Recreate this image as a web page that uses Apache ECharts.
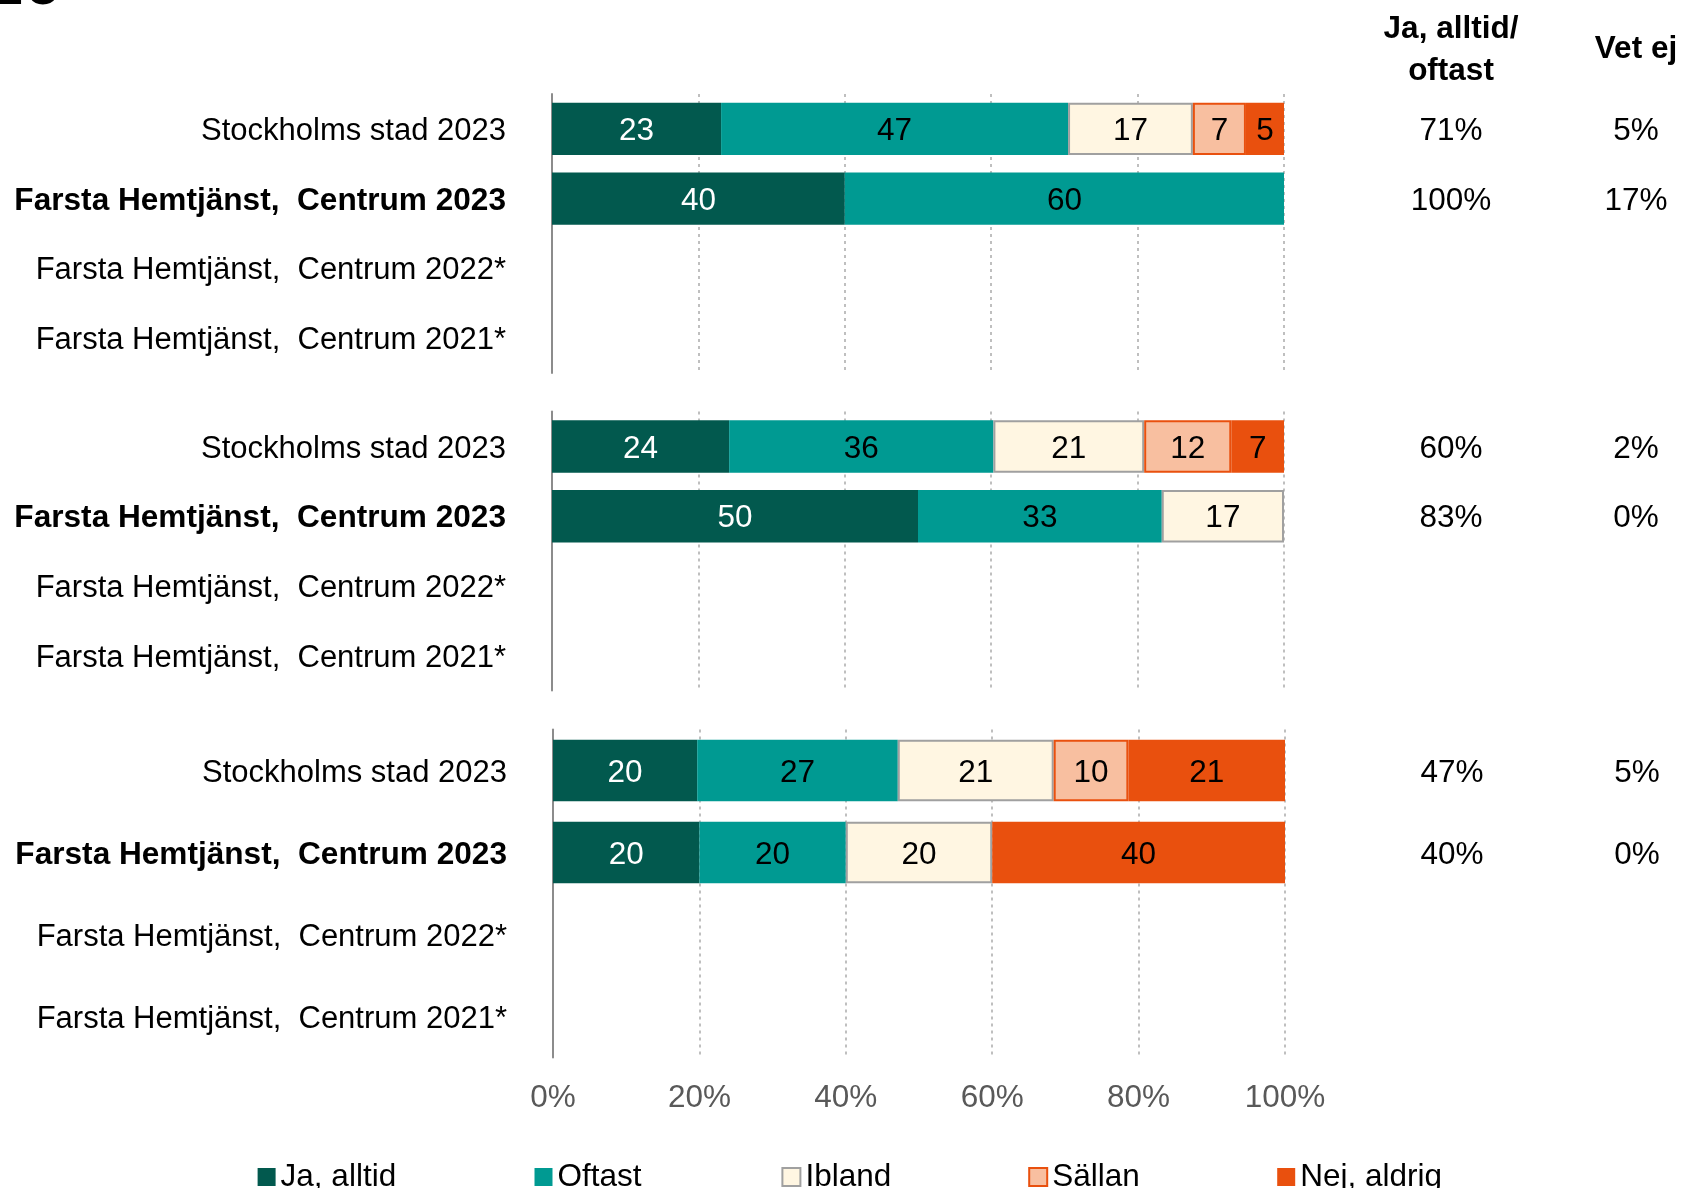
<!DOCTYPE html>
<html><head><meta charset="utf-8">
<script src="https://cdn.jsdelivr.net/npm/echarts@6/dist/echarts.min.js"></script>
<style>html,body{margin:0;padding:0;background:#fff}#c{width:1683px;height:1188px}</style>
</head><body><div id="c"></div>
<script>
const categories = ['Stockholms stad 2023', 'Farsta Hemtjänst,  Centrum 2023', 'Farsta Hemtjänst,  Centrum 2022*', 'Farsta Hemtjänst,  Centrum 2021*'];
const seriesNames = ['Ja, alltid', 'Oftast', 'Ibland', 'Sällan', 'Nej, aldrig'];
// one inner array per panel, one value per category row
const jaAlltid  = [[23.1, 40, null, null], [24.2, 50, null, null], [19.7, 20, null, null]];
const oftast    = [[47.4, 60, null, null], [36.1, 33.3, null, null], [27.4, 20, null, null]];
const ibland    = [[17.05, null, null, null], [20.6, 16.7, null, null], [21.3, 20, null, null]];
const sallan    = [[7.25, null, null, null], [11.9, null, null, null], [10.2, null, null, null]];
const nejAldrig = [[5.2, null, null, null], [7.2, null, null, null], [21.4, 40, null, null]];
const jaOftastCol = [['71%', '100%', '', ''], ['60%', '83%', '', ''], ['47%', '40%', '', '']];
const vetEjCol    = [['5%', '17%', '', ''], ['2%', '0%', '', ''], ['5%', '0%', '', '']];
const headerJa = 'Ja, alltid/\noftast';
const headerVet = 'Vet ej';
const xTickLabels = ['0%', '20%', '40%', '60%', '80%', '100%'];
const cutTitle = '10';

const FONT = '"Liberation Sans", Arial, Helvetica, sans-serif';
const FS = 31.5;
const colors = ['#02594E', '#009A92', '#FFF6E2', '#F8BFA0', '#E9500E'];
const borders = [null, null, '#A0A0A0', '#E9500E', null];
const labelColors = ['#ffffff', '#000000', '#000000', '#000000', '#000000'];
const seriesData = [jaAlltid, oftast, ibland, sallan, nejAldrig];
const legendLefts = [257.6, 534.5, 781.4, 1028.2, 1277.2];

const grids = [
  {left: 552, width: 732, top: 94, height: 279},
  {left: 552, width: 732, top: 411.6, height: 279},
  {left: 553, width: 732, top: 729.6, height: 328}
];

const xAxes = [], yAxes = [], series = [];
grids.forEach((g, gi) => {
  const last = gi === grids.length - 1;
  xAxes.push({
    type: 'value', gridIndex: gi, min: 0, max: 100, interval: 20,
    axisLine: {show: false}, axisTick: {show: false},
    axisLabel: {show: last, color: '#595959', fontSize: FS, fontFamily: FONT, margin: 24.5,
      formatter: (v) => xTickLabels[Math.round(v / 20)]},
    splitLine: {show: true, lineStyle: {color: '#BFBFBF', width: 2, type: [3, 4]}}
  });
  yAxes.push({
    type: 'category', gridIndex: gi, inverse: true, data: categories,
    axisLine: {show: true, lineStyle: {color: '#8C8C8C', width: 2}}, axisTick: {show: false},
    axisLabel: {color: '#000', fontSize: 31, fontFamily: FONT, margin: 46,
      formatter: (v, i) => i === 1 ? '{b|' + v + '}' : '{r|' + v + '}',
      rich: {
        b: {fontWeight: 'bold', fontSize: 31.6, fontFamily: FONT, color: '#000', padding: [5, 0, 0, 0]},
        r: {fontSize: 31, fontFamily: FONT, color: '#000', padding: [5, 0, 0, 0]}
      }}
  });
  [[jaOftastCol[gi], 167], [vetEjCol[gi], 352]].forEach(([col, m]) => {
    yAxes.push({
      type: 'category', gridIndex: gi, inverse: true, position: 'right', data: categories,
      axisLine: {show: false}, axisTick: {show: false}, splitLine: {show: false},
      axisLabel: {color: '#000', fontSize: FS, fontFamily: FONT, margin: m, align: 'center',
        formatter: (v, i) => col[i] ? '{v|' + col[i] + '}' : '',
        rich: {v: {fontSize: FS, fontFamily: FONT, color: '#000', padding: [5, 0, 0, 0]}}}
    });
  });
  seriesNames.forEach((name, si) => {
    series.push({
      type: 'bar', name: name, stack: 'g' + gi, xAxisIndex: gi, yAxisIndex: gi * 3,
      data: seriesData[si][gi], barCategoryGap: '25%',
      itemStyle: borders[si] ? {color: colors[si], borderColor: borders[si], borderWidth: 2} : {color: colors[si]},
      label: {show: true, position: 'inside', color: labelColors[si], fontSize: FS, fontFamily: FONT, offset: [0, 2.5],
        formatter: (p) => p.value == null ? '' : String(Math.round(p.value))},
      emphasis: {disabled: true}
    });
  });
});

const legends = seriesNames.map((name, i) => ({
  data: [name], left: legendLefts[i], top: 1161, padding: 0, icon: 'rect', itemWidth: 18, itemHeight: 18,
  textStyle: {color: '#000', fontSize: FS, fontFamily: FONT}, selectedMode: false
}));

const chart = echarts.init(document.getElementById('c'));
chart.setOption({
  animation: false,
  backgroundColor: '#fff',
  grid: grids,
  xAxis: xAxes,
  yAxis: yAxes,
  series: series,
  legend: legends,
  graphic: [
    {type: 'text', x: 1451, y: 50, style: {text: headerJa, fill: '#000',
      font: 'bold 31.5px ' + FONT, textAlign: 'center', textVerticalAlign: 'middle', lineHeight: 42}},
    {type: 'text', x: 1636, y: 49, style: {text: headerVet, fill: '#000',
      font: 'bold 31.5px ' + FONT, textAlign: 'center', textVerticalAlign: 'middle'}},
    {type: 'text', x: -17, y: 20, style: {text: cutTitle, fill: '#000',
      font: 'bold 72px ' + FONT, textAlign: 'left', textVerticalAlign: 'bottom'}}
  ]
});
</script></body></html>
